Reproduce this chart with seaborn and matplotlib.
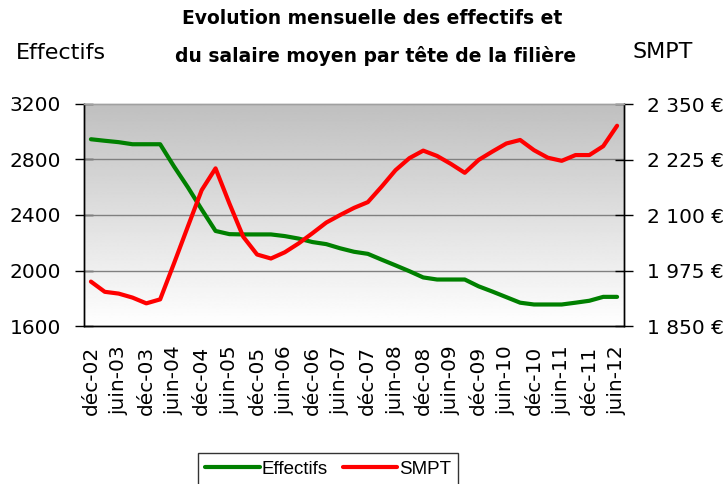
import numpy as np
import pandas as pd
import matplotlib
matplotlib.use("Agg")
import matplotlib.pyplot as plt
from matplotlib.ticker import FuncFormatter
import seaborn as sns

# quarterly points, déc-02 .. juin-12
quarters = ["déc-02", "mars-03", "juin-03", "sept-03", "déc-03", "mars-04", "juin-04", "sept-04",
            "déc-04", "mars-05", "juin-05", "sept-05", "déc-05", "mars-06", "juin-06", "sept-06",
            "déc-06", "mars-07", "juin-07", "sept-07", "déc-07", "mars-08", "juin-08", "sept-08",
            "déc-08", "mars-09", "juin-09", "sept-09", "déc-09", "mars-10", "juin-10", "sept-10",
            "déc-10", "mars-11", "juin-11", "sept-11", "déc-11", "mars-12", "juin-12"]

effectifs = [2946, 2935, 2925, 2910, 2910, 2910, 2750, 2600, 2440, 2285,
             2262, 2260, 2260, 2260, 2248, 2230, 2205, 2190, 2160, 2135,
             2120, 2078, 2037, 1995, 1950, 1935, 1935, 1935, 1886, 1848,
             1808, 1768, 1755, 1755, 1755, 1768, 1782, 1810, 1810]

smpt = [1950, 1927, 1923, 1914, 1901, 1910, 1991, 2074, 2156, 2205,
        2126, 2051, 2011, 2002, 2016, 2036, 2059, 2083, 2100, 2116,
        2129, 2164, 2201, 2228, 2245, 2233, 2215, 2195, 2224, 2243,
        2261, 2269, 2246, 2229, 2222, 2235, 2235, 2255, 2301]

left_ticks = [1600, 2000, 2400, 2800, 3200]
right_ticks = [1850, 1975, 2100, 2225, 2350]

df = pd.DataFrame({"x": np.arange(len(quarters)), "Effectifs": effectifs, "SMPT": smpt})

sns.set_style("white")
plt.rcParams["font.family"] = ["DejaVu Sans"]
plt.rcParams.update({"text.color": "black", "xtick.color": "black",
                     "ytick.color": "black", "axes.labelcolor": "black"})

fig = plt.figure(figsize=(7.27, 4.84), dpi=100)
ax = fig.add_axes([84 / 727, 1 - 326 / 484, 540 / 727, 222 / 484])
ax2 = ax.twinx()

# grey-to-white gradient background (dark at the top)
grad = np.linspace(0.75, 1.0, 256).reshape(-1, 1)
ax.imshow(grad, cmap="gray", vmin=0, vmax=1, aspect="auto", extent=[0, 1, 0, 1],
          transform=ax.transAxes, zorder=0, interpolation="bilinear")

for v in left_ticks[1:-1]:
    ax.axhline(v, color="#808080", lw=1, zorder=1)

sns.lineplot(data=df, x="x", y="Effectifs", ax=ax, color="#008000", lw=3, zorder=3, legend=False)
sns.lineplot(data=df, x="x", y="SMPT", ax=ax2, color="#ff0000", lw=3, zorder=3, legend=False)

n = len(quarters)
for a in (ax, ax2):
    a.set_xlim(-0.5, n - 0.5)
    a.set_xlabel("")
    a.set_ylabel("")

ax.set_ylim(1600, 3200)
ax.set_yticks(left_ticks)
ax2.set_ylim(1850, 2350)
ax2.set_yticks(right_ticks)
ax2.yaxis.set_major_formatter(FuncFormatter(lambda v, p: f"{int(v):,}".replace(",", " ") + " €"))

ax.set_xticks(np.arange(0, n, 2))
ax.set_xticklabels(quarters[::2], rotation=90)
ax.set_xticks(np.arange(-0.5, n, 2), minor=True)
ax.tick_params(axis="x", which="major", length=0, pad=14, labelsize=14.5)
ax.tick_params(axis="x", which="minor", length=8, direction="out", width=1, color="black")
ax.tick_params(axis="y", length=13, direction="inout", width=1, color="black", pad=10, labelsize=14.5)
ax2.tick_params(axis="y", length=13, direction="inout", width=1, color="black", pad=10, labelsize=14.5)

for a in (ax, ax2):
    for s in a.spines.values():
        s.set_color("black")
        s.set_linewidth(1)
    a.spines["top"].set_color("#a0a0a0")
    a.grid(False)

fig.text(372 / 727, 1 - 19 / 484, "Evolution mensuelle des effectifs et", ha="center", va="center",
         fontsize=13.5, fontweight="bold")
fig.text(376 / 727, 1 - 56 / 484, "du salaire moyen par tête de la filière", ha="center", va="center",
         fontsize=13.5, fontweight="bold")
fig.text(61 / 727, 1 - 53 / 484, "Effectifs", ha="center", va="center", fontsize=16)
fig.text(663 / 727, 1 - 52 / 484, "SMPT", ha="center", va="center", fontsize=16)

handles = ax.get_lines()[-1:] + ax2.get_lines()[-1:]
leg = fig.legend(handles, ["Effectifs", "SMPT"], loc="upper center",
                 bbox_to_anchor=(328 / 727, 1 - 453 / 484), ncol=2, frameon=True, fancybox=False,
                 edgecolor="black", handlelength=2.9, handletextpad=0.1, columnspacing=0.8,
                 borderpad=0.4, borderaxespad=0, prop={"family": "Liberation Sans", "size": 13.5})
leg.get_frame().set_linewidth(1)

fig.savefig("out.png", dpi=100)
